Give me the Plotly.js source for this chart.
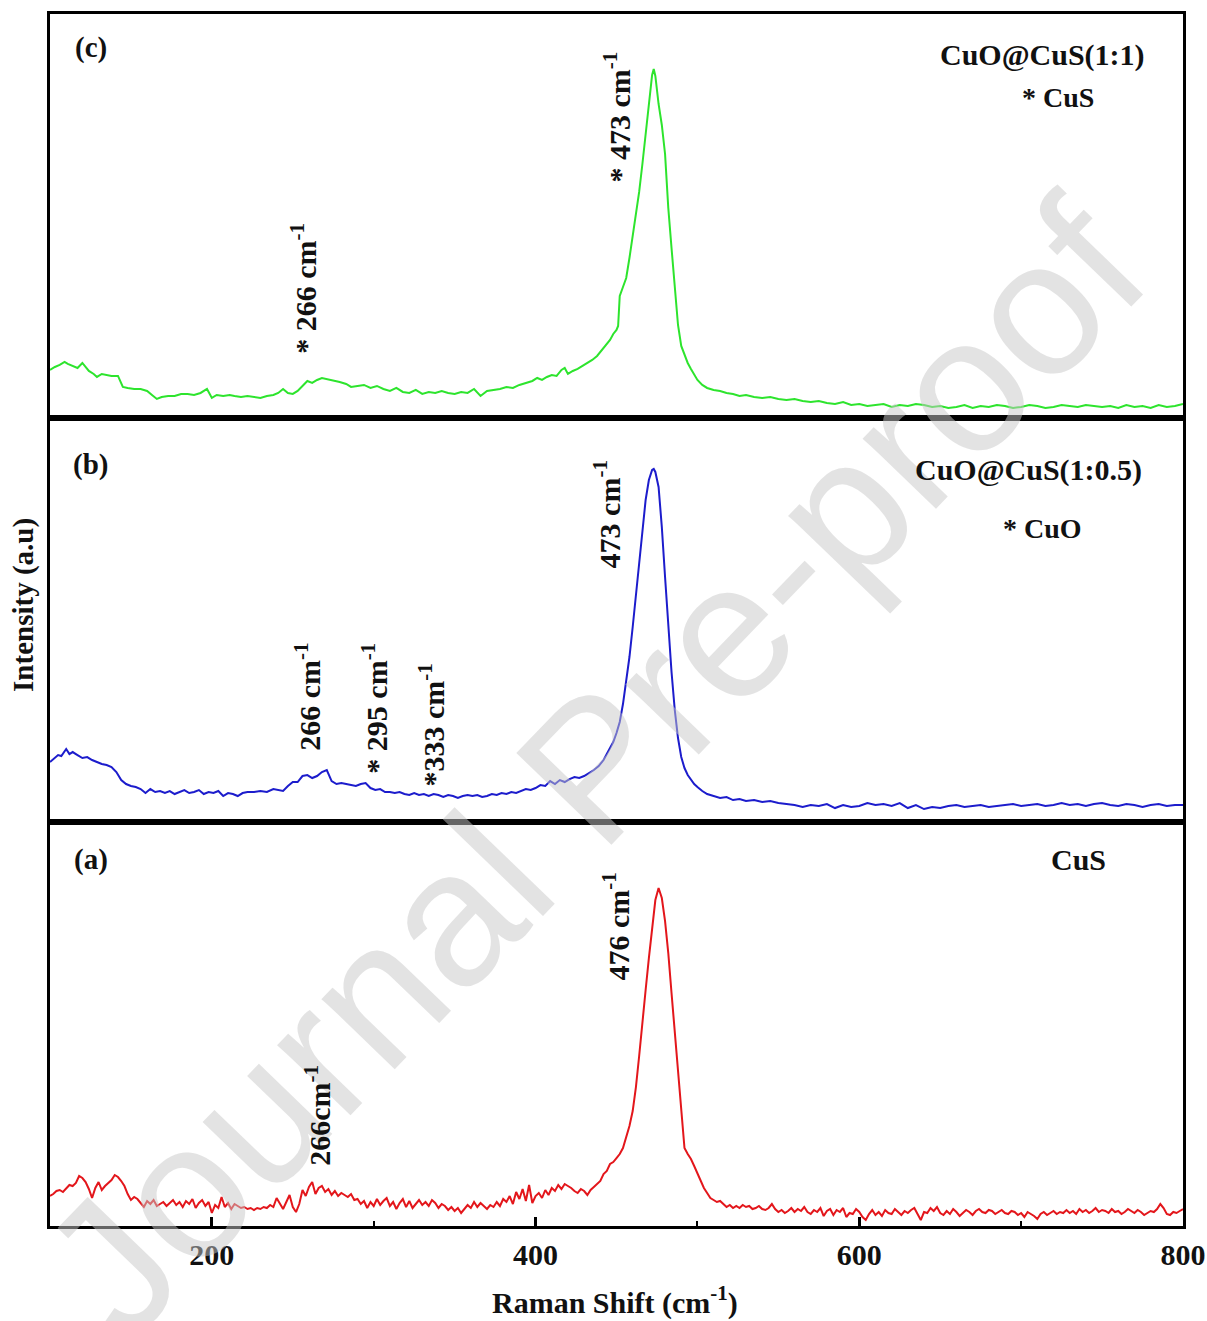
<!DOCTYPE html>
<html>
<head>
<meta charset="utf-8">
<script src="https://cdn.plot.ly/plotly-3.0.1.min.js"></script>
<style>
  html, body { margin: 0; padding: 0; background: #ffffff; }
  #chart { width: 1207px; height: 1321px; }
</style>
</head>
<body>
<div id="chart"></div>
<script>
// ---------- Data (Raman shift in cm^-1, intensity in a.u.) ----------
// (c) CuO@CuS(1:1) - green
const shiftC = [100,103,106,109,111,114,117,120,122,124,127,129,132,135,138,142,145,148,152,156,160,163,166,169,173,177,181,185,189,193,197,200,
203,207,211,214,218,222,226,230,234,238,241,244,247,250,253,256,259,262,265,268,271,275,279,283,286,290,294,298,302,306,310,314,318,322,326,330,334,338,342,346,350,354,358,362,366,370,374,378,382,386,390,394,398,401,404,407,410,413,416,418,420,423,426,429,432,435,438,441,444,446,448,
450,451,452,454,456,458,460,462,464,466,468,470,472,473,474,476,478,480,482,484,486,488,490,492,494,496,498,500,503,506,
510,514,518,522,526,530,535,540,545,550,555,560,565,570,575,580,585,590,595,600,
605,610,615,620,625,630,635,640,645,650,655,660,665,670,675,680,685,690,695,700,705,710,715,720,725,730,735,740,745,750,755,760,765,770,775,780,785,790,795,800];
const intensityC = [48,51,53,56,54,52,50,55,51,47,44,41,44,43,42,42,31,30,29,29,27,23,19,21,22,22,24,24,23,25,29,20,
23,22,23,22,21,22,21,20,22,23,25,29,25,24,27,32,37,35,38,40,39,37,36,34,31,32,33,30,32,29,27,30,26,25,28,24,26,25,27,25,24,26,25,29,22,27,28,29,31,30,33,35,37,40,38,41,43,42,48,50,44,47,49,52,55,58,62,68,74,78,84,
88,92,122,131,140,160,182,203,226,254,285,317,343,349,342,314,293,264,210,170,130,93,72,63,55,49,43,38,33,30,
28,27,25,24,22,23,21,20,21,19,18,19,17,16,17,15,14,16,13,14,
12,13,14,11,13,12,14,13,11,12,10,11,13,10,12,11,13,12,10,11,13,12,10,11,13,12,11,13,12,11,12,10,13,11,12,10,13,11,12,14];

// (b) CuO@CuS(1:0.5) - blue
const shiftB = [100,102,105,107,110,112,114,117,120,123,126,129,132,135,138,141,144,147,150,153,156,159,162,165,168,171,174,177,180,183,186,189,192,195,198,201,204,207,210,213,
216,219,222,226,230,234,238,241,244,247,250,253,256,259,262,265,268,271,274,277,280,283,286,289,292,295,298,301,304,307,310,313,316,319,322,325,328,331,334,337,
340,343,346,349,352,355,358,361,364,367,370,373,376,379,382,385,388,391,394,397,400,403,406,409,412,415,418,421,424,427,
430,433,436,439,442,444,446,448,450,452,454,456,458,460,462,464,466,468,470,472,473,474,476,478,480,482,484,486,488,490,492,494,496,498,500,503,506,
510,514,518,522,526,530,535,540,545,550,555,560,565,570,575,580,585,590,595,600,605,610,615,620,625,630,635,640,645,650,655,660,665,670,675,680,685,
690,695,700,705,710,715,720,725,730,735,740,745,750,755,760,765,770,775,780,785,790,795,800];
const intensityB = [60,63,67,66,73,68,70,67,64,65,62,60,58,57,55,50,42,38,36,35,33,29,33,30,31,29,31,28,30,32,29,30,32,28,30,29,31,26,29,28,
26,29,30,30,31,30,33,32,31,36,40,40,46,47,44,46,50,52,41,38,39,38,37,36,38,39,34,32,33,30,30,29,30,28,27,29,27,28,26,28,
27,25,27,26,24,26,27,26,27,25,26,28,27,29,28,30,29,31,33,32,34,37,36,41,38,42,40,43,45,44,
46,49,52,56,62,68,74,80,89,100,118,140,165,195,228,262,295,322,342,352,353,350,335,295,245,195,150,112,84,65,54,47,42,38,35,31,28,
26,24,25,22,23,21,22,20,21,19,18,17,15,17,16,18,14,17,15,16,19,17,18,16,19,14,17,13,15,14,16,17,15,16,17,15,16,
17,18,16,17,18,16,17,19,17,18,16,18,19,17,16,18,17,15,17,18,16,17,17];

// (a) CuS - red
const shiftA = [100,102,104,106,108,110,112,114,116,118,120,122,124,126,128,130,132,134,136,138,140,142,144,146,148,150,152,154,156,158,160,162,164,166,168,170,172,174,176,178,180,182,184,186,188,190,192,194,196,198,
200,202,204,206,208,210,212,214,216,218,220,222,224,226,228,230,232,234,236,238,240,242,244,246,248,250,252,254,256,258,260,262,264,266,268,270,272,274,276,278,280,282,284,286,288,290,292,294,296,298,
300,302,304,306,308,310,312,314,316,318,320,322,324,326,328,330,332,334,336,338,340,342,344,346,348,350,352,354,356,358,360,362,364,366,368,370,372,374,376,378,380,382,384,386,388,390,392,394,396,398,
400,402,404,406,408,410,412,414,416,418,420,422,424,426,428,430,432,434,436,438,440,442,444,446,448,450,452,454,456,458,460,462,464,466,468,470,472,474,476,478,480,482,484,486,488,490,492,494,496,498,
500,502,504,506,508,510,512,514,516,518,520,522,524,526,528,530,532,534,536,538,540,542,544,546,548,550,552,554,556,558,560,562,564,566,568,570,572,574,576,578,580,582,584,586,588,590,592,594,596,598,
600,602,604,606,608,610,612,614,616,618,620,622,624,626,628,630,632,634,636,638,640,642,644,646,648,650,652,654,656,658,660,662,664,666,668,670,672,674,676,678,680,682,684,686,688,690,692,694,696,698,
700,702,704,706,708,710,712,714,716,718,720,722,724,726,728,730,732,734,736,738,740,742,744,746,748,750,752,754,756,758,760,762,764,766,768,770,772,774,776,778,780,782,784,786,788,790,792,794,796,798,800];
const intensityA = [30,32,35,36,34,38,41,40,43,50,48,44,37,28,38,44,36,40,43,46,51,49,45,40,32,26,29,27,23,19,25,22,26,20,22,24,20,23,26,21,24,19,25,22,27,18,23,26,20,24,
13,21,18,29,19,23,17,22,20,18,19,17,18,16,18,17,19,18,21,19,28,22,17,24,31,19,14,22,36,30,39,44,32,38,40,34,37,31,35,30,33,31,29,32,26,27,22,25,18,24,
20,27,21,25,28,20,24,17,23,27,19,25,18,22,26,21,24,20,26,23,18,22,20,16,19,15,18,13,17,21,18,24,19,23,20,17,21,19,24,20,27,24,30,22,34,27,37,25,41,23,
30,33,28,36,31,38,35,41,37,42,40,38,35,33,37,35,31,36,39,42,45,52,55,62,64,68,72,78,88,100,115,139,170,200,236,268,300,326,338,328,305,273,233,193,153,110,78,72,67,60,
52,45,38,33,28,26,24,25,22,19,21,18,20,18,21,19,20,17,18,20,17,16,18,22,17,14,16,13,15,18,14,17,15,19,14,12,16,14,18,10,15,17,11,16,14,18,9,13,12,17,
14,9,6,12,16,11,14,10,16,13,12,17,14,11,15,13,16,18,12,6,14,13,18,15,19,13,11,15,12,17,14,10,13,16,14,11,15,17,14,13,16,15,12,14,16,13,12,15,14,11,
13,9,14,12,10,7,12,14,11,13,15,12,14,13,16,13,15,12,17,14,16,13,15,18,14,16,15,13,17,14,15,12,14,17,15,13,16,14,11,13,15,14,17,22,18,12,11,14,13,15,17];

const xTicks = [200, 400, 600, 800];
const xTickText = ['200', '400', '600', '800'];
const xMinorTicks = [300, 500, 700];

// ---------- Styling ----------
const serif = 'Liberation Serif, Times New Roman, serif';
const txt = (size) => ({family: serif, size: size, color: '#111111', weight: 'bold'});

const traces = [
  {x: shiftA, y: intensityA, xaxis: 'x', yaxis: 'y', type: 'scatter', mode: 'lines',
   line: {color: '#e3161b', width: 2}, name: 'CuS', hoverinfo: 'x+y'},
  {x: shiftB, y: intensityB, xaxis: 'x2', yaxis: 'y2', type: 'scatter', mode: 'lines',
   line: {color: '#1c1ccc', width: 2}, name: 'CuO@CuS(1:0.5)', hoverinfo: 'x+y'},
  {x: shiftC, y: intensityC, xaxis: 'x3', yaxis: 'y3', type: 'scatter', mode: 'lines',
   line: {color: '#2de42d', width: 2}, name: 'CuO@CuS(1:1)', hoverinfo: 'x+y'}
];

const frame = {showline: true, linecolor: '#000000', linewidth: 3, mirror: true,
               showgrid: false, zeroline: false};

const hidY = Object.assign({}, frame, {range: [0, 404], ticks: '', showticklabels: false, fixedrange: true});
const hidX = Object.assign({}, frame, {range: [100, 800], ticks: '', showticklabels: false});

function peak(x, y, text) {
  return {x: x, y: y, xref: 'x', yref: 'paper', text: text, showarrow: false,
          textangle: -90, xanchor: 'center', yanchor: 'middle', font: txt(30)};
}
function label(x, y, text, size) {
  return {x: x, y: y, xref: 'paper', yref: 'paper', text: text, showarrow: false,
          xanchor: 'center', yanchor: 'middle', font: txt(size || 30)};
}

const annotations = [
  // watermark (first so the rest sits above it)
  {x: 0.48, y: 0.378, xref: 'paper', yref: 'paper', text: 'Journal Pre-proof', showarrow: false,
   textangle: -46, xanchor: 'center', yanchor: 'middle',
   font: {family: 'Liberation Sans, Arial, sans-serif', size: 192, color: 'rgba(200,200,200,0.5)'}},
  // panel (c)
  label(0.036, 0.972, '(c)', 29),
  label(0.8764, 0.966, 'CuO@CuS(1:1)'),
  label(0.8897, 0.9315, '* CuS', 28),
  peak(450.6, 0.915, '* 473 cm<sup>-1</sup>'),
  peak(256.8, 0.774, '* 266 cm<sup>-1</sup>'),
  // panel (b)
  label(0.036, 0.628, '(b)', 29),
  label(0.864, 0.6238, 'CuO@CuS(1:0.5)'),
  label(0.8764, 0.5759, '* CuO', 28),
  peak(444.4, 0.5875, '473 cm<sup>-1</sup>'),
  peak(259.3, 0.4365, '266 cm<sup>-1</sup>'),
  peak(300.6, 0.4274, '* 295 cm<sup>-1</sup>'),
  peak(335.8, 0.4134, '*333 cm<sup>-1</sup>'),
  // panel (a)
  label(0.036, 0.302, '(a)', 29),
  label(0.908, 0.302, 'CuS'),
  peak(450.0, 0.2467, '476 cm<sup>-1</sup>'),
  peak(265.4, 0.0916, '266cm<sup>-1</sup>'),
  // axis titles
  {x: -0.023, y: 0.5124, xref: 'paper', yref: 'paper', text: 'Intensity (a.u)', showarrow: false,
   textangle: -90, xanchor: 'center', yanchor: 'middle', font: txt(29)},
  {x: 0.4987, y: -0.0615, xref: 'paper', yref: 'paper', text: 'Raman Shift (cm<sup>-1</sup>)', showarrow: false,
   xanchor: 'center', yanchor: 'middle', font: txt(30)}
];

const layout = {
  width: 1207, height: 1321,
  margin: {l: 50, r: 24, t: 14, b: 95, pad: 0},
  paper_bgcolor: '#ffffff', plot_bgcolor: '#ffffff',
  showlegend: false,
  xaxis: Object.assign({}, frame, {
    anchor: 'y', range: [100, 800],
    tickmode: 'array', tickvals: xTicks, ticktext: xTickText,
    ticks: 'inside', ticklen: 9, tickwidth: 3, tickcolor: '#000000',
    ticklabelstandoff: 0,
    tickfont: txt(30),
    minor: {ticks: 'inside', ticklen: 5, tickwidth: 2, tickcolor: '#000000', tickvals: xMinorTicks, showgrid: false}
  }),
  xaxis2: Object.assign({}, hidX, {anchor: 'y2', matches: 'x'}),
  xaxis3: Object.assign({}, hidX, {anchor: 'y3', matches: 'x'}),
  yaxis: Object.assign({}, hidY, {domain: [0, 0.3333], anchor: 'x'}),
  yaxis2: Object.assign({}, hidY, {domain: [0.3333, 0.6667], anchor: 'x2'}),
  yaxis3: Object.assign({}, hidY, {domain: [0.6667, 1], anchor: 'x3'}),
  annotations: annotations
};

Plotly.newPlot('chart', traces, layout, {displayModeBar: false, staticPlot: true});
</script>
</body>
</html>
